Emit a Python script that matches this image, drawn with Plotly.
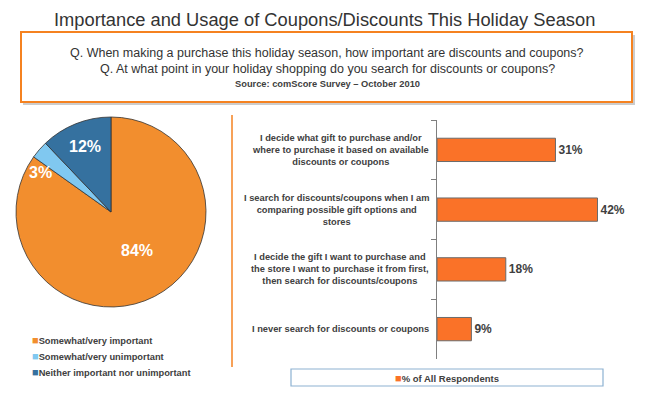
import math
import plotly.graph_objects as go

W, H = 646, 396
# the page body adds an 8px margin around the figure; compensate so the
# content lands where it sits in the reference window
OFF = 8

title_text = "Importance and Usage of Coupons/Discounts This Holiday Season"
question_lines = [
    "Q. When making a purchase this holiday season, how important are discounts and coupons?",
    "Q. At what point in your holiday shopping do you search for discounts or coupons?",
]
source_text = "Source: comScore Survey \u2013 October 2010"

pie_labels = ["Somewhat/very important", "Somewhat/very unimportant", "Neither important nor unimportant"]
pie_values = [84, 3, 12]
pie_colors = ["#F28E2E", "#80C8F0", "#35719F"]

bar_categories = [
    "I decide what gift to purchase and/or<br>where to purchase it based on available<br>discounts or coupons",
    "I search for discounts/coupons when I am<br>comparing possible gift options and<br>stores",
    "I decide the gift I want to purchase and<br>the store I want to purchase it from first,<br>then search for discounts/coupons",
    "I never search for discounts or coupons",
]
bar_values = [31, 42, 18, 9]
bar_series_name = "% of All Respondents"
bar_color = "#FA7228"

TXT = "#404040"
FONT = "Liberation Sans, Arial, sans-serif"


def px(x):
    return (x - OFF) / W


def py(y):
    return 1 - (y - OFF) / H


# pie geometry (pixels)
cx, cy, r = 111, 212, 95

fig = go.Figure()

fig.add_trace(go.Pie(
    labels=pie_labels,
    values=pie_values,
    sort=False,
    direction="clockwise",
    rotation=0,
    marker=dict(colors=pie_colors, line=dict(color="#333333", width=0.8)),
    textinfo="none",
    hoverinfo="label+value",
    domain=dict(x=[px(cx - r), px(cx + r)], y=[py(cy + r), py(cy - r)]),
    showlegend=False,
))

fig.add_trace(go.Bar(
    y=bar_categories,
    x=bar_values,
    orientation="h",
    name=bar_series_name,
    marker=dict(color=bar_color, line=dict(color="#6b6b6b", width=1)),
    text=[f"<b>{v}%</b>" for v in bar_values],
    textposition="outside",
    textfont=dict(family=FONT, size=12, color=TXT),
    cliponaxis=False,
    width=0.39,
    showlegend=False,
))

# pie percentage labels placed at slice angles computed from the values
total = sum(pie_values)
label_radius = [0.49, 0.85, 0.74]
label_turn = [-7, -12, 0]  # degrees, nudges the label within/around its slice
cum = 0
annotations = []
for v, f, t in zip(pie_values, label_radius, label_turn):
    mid = (cum + v / 2) / total * 2 * math.pi + math.radians(t)
    cum += v
    lx = cx + r * f * math.sin(mid)
    ly = cy - r * f * math.cos(mid)
    annotations.append(dict(
        x=px(lx), y=py(ly), xref="paper", yref="paper", xanchor="center", yanchor="middle",
        text=f"<b>{v}%</b>", showarrow=False,
        font=dict(family=FONT, size=16, color="white"),
    ))

# bar category labels, centered multi-line
for cat in bar_categories:
    annotations.append(dict(
        x=0, xref="x domain", y=cat, yref="y", yanchor="middle",
        text=f"<b>{cat}</b>", showarrow=False, align="center",
        xanchor="right", xshift=-6,
        font=dict(family=FONT, size=9.3, color=TXT),
    ))

# pie legend
for i, (lab, col) in enumerate(zip(pie_labels, pie_colors)):
    annotations.append(dict(
        x=px(30), y=py(340 + i * 16), xref="paper", yref="paper", xanchor="left", yanchor="middle",
        text=f"<span style='color:{col};font-size:11px'>\u25A0</span><b>{lab}</b>", showarrow=False,
        font=dict(family=FONT, size=9.3, color=TXT),
    ))

# bar legend
annotations.append(dict(
    x=px(447), y=py(377.5), xref="paper", yref="paper", xanchor="center", yanchor="middle",
    text=f"<span style='color:{bar_color};font-size:11px'>\u25A0</span><b>{bar_series_name}</b>",
    showarrow=False,
    font=dict(family=FONT, size=9.5, color=TXT),
))

annotations += [
    dict(x=px(324), y=py(19), text=title_text,
         font=dict(family=FONT, size=18.3, color="#333333")),
    dict(x=px(327), y=py(53), text=question_lines[0],
         font=dict(family=FONT, size=12.5, color="#333333")),
    dict(x=px(327), y=py(69), text=question_lines[1],
         font=dict(family=FONT, size=12.5, color="#333333")),
    dict(x=px(327), y=py(84), text=f"<b>{source_text}</b>",
         font=dict(family=FONT, size=9.3, color=TXT)),
]
for a in annotations[-4:]:
    a.update(xref="paper", yref="paper", xanchor="center", yanchor="middle", showarrow=False)

shapes = [
    # shadow of the header box
    dict(type="rect", xref="paper", yref="paper", x0=px(23), x1=px(635), y0=py(105), y1=py(35),
         line=dict(width=0), fillcolor="#CCCCCC", layer="below"),
    dict(type="rect", xref="paper", yref="paper", x0=px(21), x1=px(632), y0=py(102), y1=py(32),
         line=dict(color="#F58220", width=2), fillcolor="white", layer="below"),
    # vertical separator
    dict(type="line", xref="paper", yref="paper", x0=px(232), x1=px(232), y0=py(115), y1=py(367),
         line=dict(color="#F58220", width=1.5)),
    # bar legend frame
    dict(type="rect", xref="paper", yref="paper", x0=px(291), x1=px(603), y0=py(386), y1=py(369),
         line=dict(color="#8DB2D2", width=1.2), fillcolor="white", layer="below"),
]

fig.update_layout(
    width=W, height=H,
    margin=dict(l=0, r=0, t=0, b=0, autoexpand=False),
    paper_bgcolor="white", plot_bgcolor="white",
    font=dict(family=FONT, color=TXT),
    showlegend=False,
    xaxis=dict(domain=[px(437), px(437) + 193 / W], range=[0, 50.5], visible=False),
    yaxis=dict(domain=[py(359), py(120)], autorange="reversed", showticklabels=False,
               showline=True, linecolor="#7f7f7f", linewidth=1, ticks="outside",
               tickson="boundaries", ticklen=5, tickcolor="#7f7f7f", showgrid=False,
               anchor="x"),
    annotations=annotations,
    shapes=shapes,
    bargap=0.61,
)

fig.write_html("out.html")
